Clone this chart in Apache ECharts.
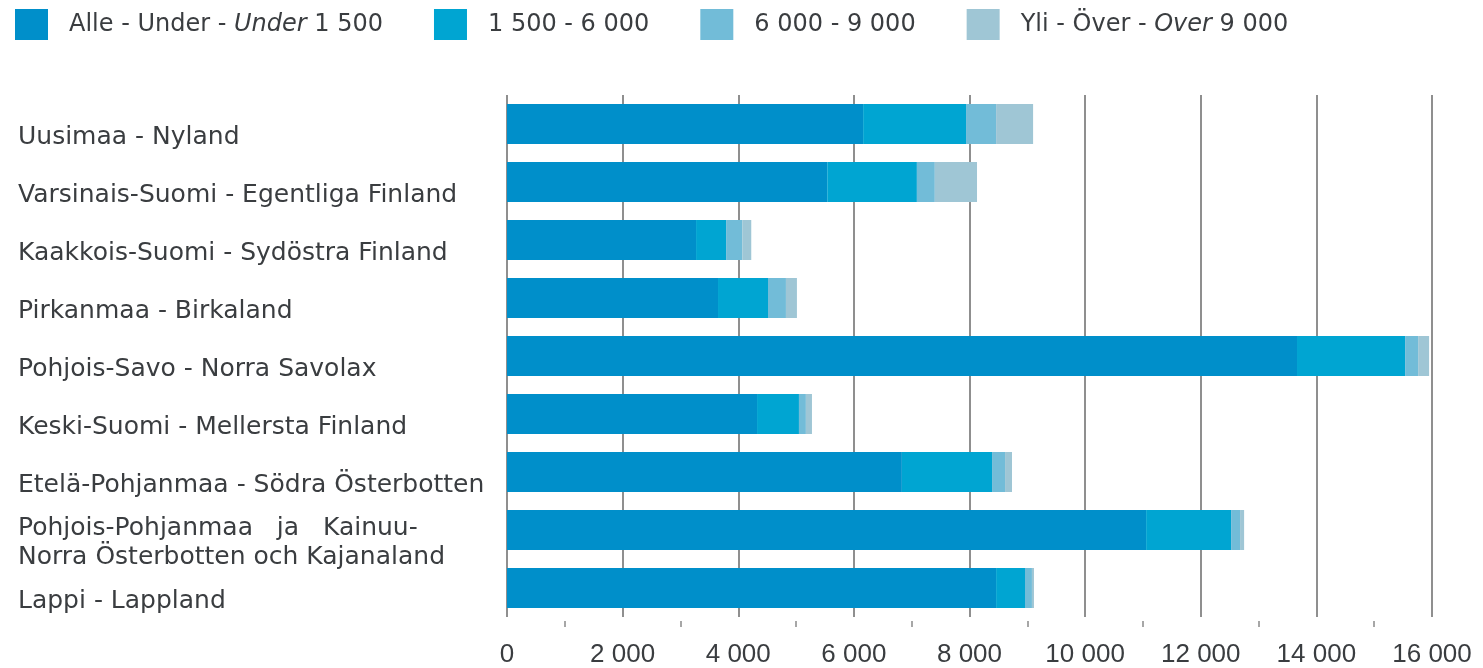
<!DOCTYPE html>
<html>
<head>
<meta charset="utf-8">
<script src="https://cdn.jsdelivr.net/npm/echarts@6/dist/echarts.min.js"></script>
<style>
html,body{margin:0;padding:0;background:#fff;}
#c{width:1483px;height:668px;}
</style>
</head>
<body>
<div id="c"></div>
<script>
const categories = [
  'Uusimaa - Nyland',
  'Varsinais-Suomi - Egentliga Finland',
  'Kaakkois-Suomi - Sydöstra Finland',
  'Pirkanmaa - Birkaland',
  'Pohjois-Savo - Norra Savolax',
  'Keski-Suomi - Mellersta Finland',
  'Etelä-Pohjanmaa - Södra Österbotten',
  'Pohjois-Pohjanmaa   ja   Kainuu-\nNorra Österbotten och Kajanaland',
  'Lappi - Lappland'
];
const seriesNames = ['Alle - Under - Under 1 500', '1 500 - 6 000', '6 000 - 9 000', 'Yli - Över - Over 9 000'];
const under1500 = [6160, 5540, 3270, 3650, 13665, 4325, 6830, 11055, 8460];
const from1500to6000 = [1780, 1550, 520, 865, 1870, 725, 1560, 1470, 500];
const from6000to9000 = [520, 310, 280, 310, 225, 120, 225, 155, 120];
const over9000 = [640, 730, 155, 190, 190, 105, 120, 70, 35];
const xTicks = [0, 2000, 4000, 6000, 8000, 10000, 12000, 14000, 16000];

const colors = ['#008fca', '#00a5d2', '#72bcd8', '#9fc6d5'];
const FONT = 'Liberation Sans, Arial, sans-serif';
const WIDE = 'DejaVu Sans, sans-serif';
const TXT = '#3a3d40';

const chart = echarts.init(document.getElementById('c'));
const values = [under1500, from1500to6000, from6000to9000, over9000];

chart.setOption({
  animation: false,
  color: colors,
  textStyle: { fontFamily: FONT },
  legend: {
    left: 15, top: 9, padding: 0,
    itemWidth: 33, itemHeight: 31, itemGap: 51,
    icon: 'rect',
    textStyle: {
      fontFamily: WIDE, fontSize: 24, color: TXT, padding: [0, 0, 0, 16],
      rich: {
        i: { fontFamily: WIDE, fontSize: 24, color: TXT, fontStyle: 'italic' },
        n: { fontFamily: WIDE, fontSize: 24, color: TXT }
      }
    },
    formatter: function (name) {
      if (name === seriesNames[0]) return '{n|Alle - Under - }{i|Under}{n| 1 500}';
      if (name === seriesNames[3]) return '{n|Yli - Över - }{i|Over}{n| 9 000}';
      return '{n|' + name + '}';
    },
    data: seriesNames
  },
  grid: { left: 507, right: 51, top: 95, bottom: 51, containLabel: false },
  xAxis: [{
    type: 'value', min: 0, max: 16000, interval: 2000,
    axisLine: { show: false },
    axisTick: { show: false },
    splitLine: { show: true, lineStyle: { color: '#6a6a6a', width: 1.5 } },
    axisLabel: {
      fontFamily: FONT, fontSize: 26, color: TXT, margin: 25,
      formatter: function (v) { return xTicks.indexOf(v) >= 0 ? String(v).replace(/\B(?=(\d{3})+(?!\d))/g, ' ') : ''; }
    }
  }, {
    type: 'value', min: 0, max: 16000, interval: 2000, position: 'bottom', offset: 4,
    axisLine: { show: false },
    axisTick: { show: false },
    splitLine: { show: false },
    axisLabel: { show: false },
    minorTick: { show: true, splitNumber: 2, length: 6, lineStyle: { color: '#8a8a8a', width: 1.5 } }
  }],
  yAxis: {
    type: 'category', inverse: true, data: categories,
    axisLine: { show: false },
    axisTick: { show: false },
    axisLabel: {
      interval: 0, align: 'left', margin: 489,
      formatter: function (v) {
        return v.split('\n').map(function (s) { return '{c|' + s + '}'; }).join('\n');
      },
      rich: {
        c: { fontFamily: WIDE, fontSize: 25, color: TXT, lineHeight: 29, padding: [26, 0, 0, 0] }
      }
    }
  },
  series: seriesNames.map(function (n, i) {
    return {
      name: n, type: 'bar', stack: 'total', barWidth: 40,
      itemStyle: { color: colors[i] },
      data: values[i]
    };
  })
});
</script>
</body>
</html>
